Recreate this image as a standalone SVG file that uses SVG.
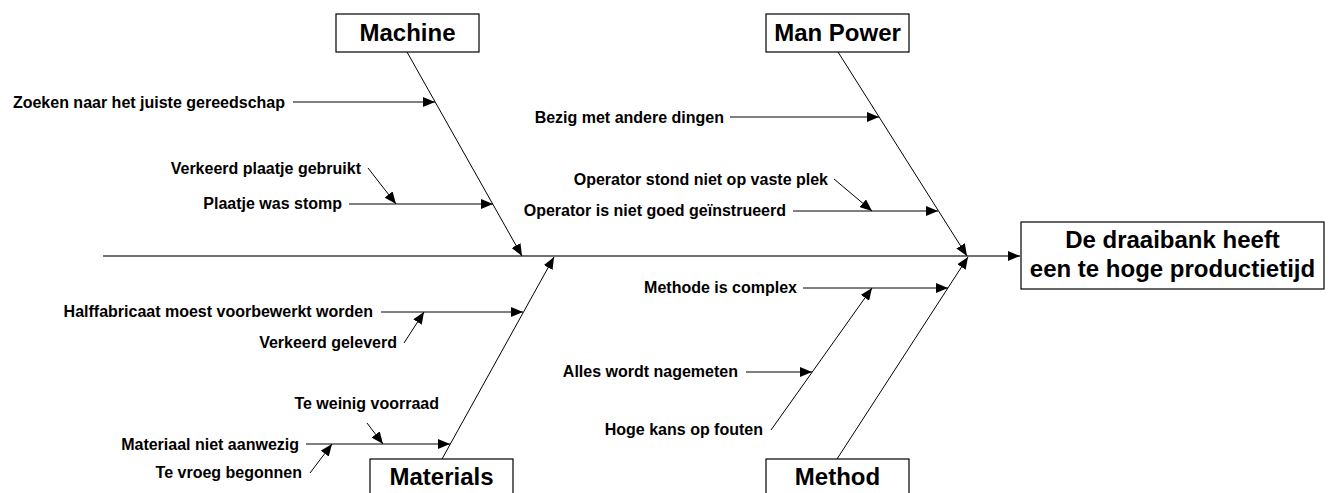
<svg xmlns="http://www.w3.org/2000/svg" width="1336" height="493" viewBox="0 0 1336 493">
<style>
.box{fill:#fff;stroke:#000;stroke-width:1.2}
.cat{font-family:"Liberation Sans",Arial,sans-serif;font-weight:bold;font-size:24px;text-anchor:middle;fill:#000}
.lbl{font-family:"Liberation Sans",Arial,sans-serif;font-weight:bold;font-size:16px;text-anchor:end;fill:#000}
.ln{stroke:#000;stroke-width:1;fill:none;marker-end:url(#ah)}
.main{stroke:#707070;stroke-width:2;fill:none;marker-end:url(#ah)}
</style>
<defs>
<marker id="ah" markerUnits="userSpaceOnUse" markerWidth="12" markerHeight="10" refX="12" refY="5" orient="auto">
<path d="M0,0 L12,5 L0,10 z" fill="#000"/>
</marker>
</defs>
<rect width="1336" height="493" fill="#fff"/>
<g id="connectors">
<line class="main" x1="103" y1="256" x2="1020" y2="256"/>
<line class="ln" x1="407" y1="52" x2="522" y2="256"/>
<line class="ln" x1="838" y1="52" x2="967" y2="256"/>
<line class="ln" x1="442" y1="459" x2="554" y2="257"/>
<line class="ln" x1="837" y1="459" x2="968" y2="257"/>
<line class="ln" x1="293" y1="102" x2="435" y2="102"/>
<line class="ln" x1="349" y1="204" x2="493" y2="204"/>
<line class="ln" x1="368" y1="168" x2="396" y2="204"/>
<line class="ln" x1="730" y1="117" x2="879" y2="117"/>
<line class="ln" x1="793" y1="211" x2="938" y2="211"/>
<line class="ln" x1="834" y1="179" x2="872" y2="211"/>
<line class="ln" x1="381" y1="312" x2="523" y2="312"/>
<line class="ln" x1="404" y1="343" x2="424" y2="312"/>
<line class="ln" x1="306" y1="444" x2="450" y2="444"/>
<line class="ln" x1="367" y1="423" x2="383" y2="444"/>
<line class="ln" x1="310" y1="473" x2="332" y2="444"/>
<line class="ln" x1="803" y1="288" x2="948" y2="288"/>
<line class="ln" x1="771" y1="430" x2="872" y2="288"/>
<line class="ln" x1="746" y1="372" x2="812" y2="372"/>
</g>
<g id="machine">
<rect class="box" x="336" y="14" width="143" height="38"/>
<text class="cat" x="407.5" y="41">Machine</text>
</g>
<g id="manpower">
<rect class="box" x="766" y="14" width="143" height="38"/>
<text class="cat" x="837.5" y="41">Man Power</text>
</g>
<g id="materials">
<rect class="box" x="370" y="459" width="143" height="40"/>
<text class="cat" x="441.5" y="485">Materials</text>
</g>
<g id="method">
<rect class="box" x="766" y="459" width="143" height="40"/>
<text class="cat" x="837.5" y="485">Method</text>
</g>
<g id="effect">
<rect class="box" x="1021" y="222" width="303" height="67"/>
<text class="cat" x="1172.5" y="248">De draaibank heeft</text>
<text class="cat" x="1172.5" y="277">een te hoge productietijd</text>
</g>
<g id="causes">
<text class="lbl" x="285" y="107.5">Zoeken naar het juiste gereedschap</text>
<text class="lbl" x="361" y="174">Verkeerd plaatje gebruikt</text>
<text class="lbl" x="342" y="209">Plaatje was stomp</text>
<text class="lbl" x="724" y="122.5">Bezig met andere dingen</text>
<text class="lbl" x="828" y="185">Operator stond niet op vaste plek</text>
<text class="lbl" x="786" y="216">Operator is niet goed geïnstrueerd</text>
<text class="lbl" x="373" y="317">Halffabricaat moest voorbewerkt worden</text>
<text class="lbl" x="397" y="348">Verkeerd geleverd</text>
<text class="lbl" x="439" y="409">Te weinig voorraad</text>
<text class="lbl" x="299" y="449.5">Materiaal niet aanwezig</text>
<text class="lbl" x="302" y="478">Te vroeg begonnen</text>
<text class="lbl" x="797" y="293">Methode is complex</text>
<text class="lbl" x="738" y="377">Alles wordt nagemeten</text>
<text class="lbl" x="763" y="435">Hoge kans op fouten</text>
</g>
</svg>
